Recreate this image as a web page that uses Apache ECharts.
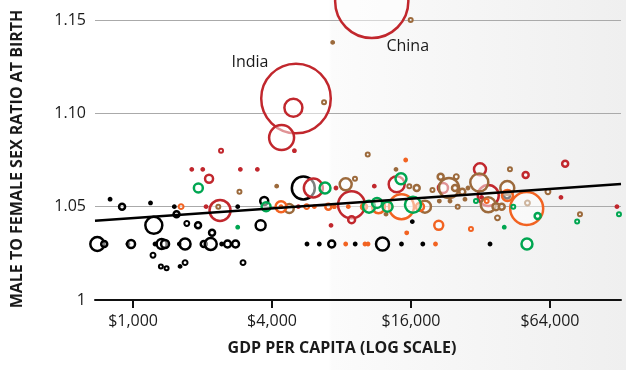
<!DOCTYPE html>
<html>
<head>
<meta charset="utf-8">
<script src="https://cdn.jsdelivr.net/npm/echarts@6/dist/echarts.min.js"></script>
<style>
  html, body { margin: 0; padding: 0; background: #fff; }
  #chart { width: 626px; height: 370px; }
</style>
</head>
<body>
<div id="chart"></div>
<script>
// [gdp per capita $, male/female ratio at birth, population (millions), name]
const black = [
  [700, 1.030, 49], [750, 1.030, 9], [795, 1.054, 2], [896, 1.050, 9],
  [950, 1.030, 1], [980, 1.030, 16], [1190, 1.052, 2], [1230, 1.040, 72],
  [1220, 1.024, 6], [1245, 1.030, 1], [1330, 1.030, 25], [1376, 1.030, 16],
  [1320, 1.018, 4], [1397, 1.017, 4], [1509, 1.050, 1], [1543, 1.046, 9],
  [1587, 1.030, 1], [1680, 1.030, 30], [1598, 1.018, 2], [1680, 1.020, 6],
  [1709, 1.041, 6], [1912, 1.040, 9], [2024, 1.030, 9], [2170, 1.030, 36],
  [2199, 1.036, 9], [2420, 1.030, 1], [2566, 1.030, 12], [2780, 1.030, 12],
  [2995, 1.020, 6], [2840, 1.050, 1], [3570, 1.040, 25], [3700, 1.053, 16],
  [5465, 1.060, 132], [5670, 1.030, 2], [6410, 1.030, 1], [7255, 1.030, 12],
  [9170, 1.030, 1], [12040, 1.030, 42], [14550, 1.030, 1], [16210, 1.042, 1],
  [18000, 1.030, 1], [35200, 1.030, 1], [41700, 1.056, 9]
];
const red = [
  [10815, 1.160, 1340, "China"], [5080, 1.108, 1210, "India"],
  [4950, 1.103, 81], [4400, 1.087, 156], [5000, 1.080, 1], [2405, 1.080, 4],
  [1796, 1.070, 1], [2004, 1.070, 1], [2134, 1.065, 16], [2071, 1.050, 1],
  [2381, 1.048, 110], [2916, 1.070, 1], [3455, 1.070, 1], [5200, 1.050, 1],
  [6040, 1.060, 90], [7570, 1.060, 1], [7205, 1.040, 1], [8840, 1.051, 182],
  [8850, 1.043, 12], [11095, 1.061, 1], [13870, 1.062, 64], [22010, 1.060, 25],
  [31840, 1.070, 36], [34590, 1.056, 110], [32380, 1.055, 1], [50220, 1.067, 9],
  [71420, 1.055, 1], [74480, 1.073, 9], [124850, 1.050, 1]
];
const brown = [
  [15950, 1.150, 4], [7325, 1.138, 1], [6720, 1.106, 4], [10390, 1.078, 4],
  [13775, 1.070, 1], [2340, 1.050, 4], [2890, 1.058, 4], [4190, 1.061, 2],
  [4750, 1.049, 20], [8340, 1.062, 36], [9150, 1.065, 4], [15730, 1.061, 4],
  [16935, 1.060, 9], [18390, 1.050, 36], [12470, 1.046, 2], [19820, 1.059, 4],
  [21510, 1.066, 9], [25140, 1.066, 6], [23370, 1.060, 100], [24820, 1.060, 9],
  [26690, 1.058, 9], [27410, 1.054, 1], [23610, 1.053, 2], [21220, 1.053, 2],
  [25490, 1.050, 4], [28250, 1.060, 2], [31620, 1.063, 81], [34590, 1.051, 56],
  [37340, 1.050, 12], [39540, 1.050, 9], [37910, 1.044, 6], [41810, 1.060, 49],
  [42940, 1.070, 4], [51130, 1.052, 6], [62720, 1.058, 6], [86340, 1.046, 4]
];
const orange = [
  [1614, 1.050, 6], [4376, 1.050, 30], [4376, 1.050, 2], [5650, 1.050, 6],
  [6100, 1.050, 1], [7015, 1.050, 9], [7445, 1.050, 2], [8560, 1.050, 1],
  [8340, 1.030, 1], [10110, 1.030, 1], [10420, 1.030, 1], [10015, 1.050, 9],
  [11570, 1.050, 42], [13195, 1.050, 1], [14550, 1.050, 156], [17500, 1.050, 16],
  [15175, 1.075, 1], [15330, 1.036, 1], [21100, 1.040, 20], [20430, 1.030, 2],
  [29100, 1.038, 4], [34040, 1.053, 4], [41880, 1.056, 30], [50740, 1.049, 272]
];
const green = [
  [1918, 1.060, 20], [2840, 1.039, 1], [3770, 1.050, 20], [6785, 1.060, 30],
  [10525, 1.050, 36], [11400, 1.052, 25], [12655, 1.050, 25], [14480, 1.065, 30],
  [16320, 1.051, 64], [30590, 1.053, 4], [44380, 1.050, 4], [40570, 1.039, 1],
  [56600, 1.045, 9], [50880, 1.030, 30], [83940, 1.042, 4], [127400, 1.046, 4]
];
// fitted line, end points
const trendLine = [[684, 1.0425], [130000, 1.0622]];

const gdpTicks = [1000, 4000, 16000, 64000];
const gdpRange = [684, 130000];
const ratioRange = [1, 1.2];

const font = '"Open Sans", "Noto Sans", sans-serif';
const textColor = "#1a1a1a";
const colors = {
  black: "#000000",
  red: "#c1272d",
  brown: "#9c6a3c",
  orange: "#f26322",
  green: "#00a651",
};
// India / China label placement
const labelOffsets = { India: [-46, -36], China: [36, 45] };

const chart = echarts.init(document.getElementById("chart"));

function toItem(row, color) {
  const size = Math.max(2 * Math.sqrt(row[2]), 2.8);
  const item = {
    value: [Math.log2(row[0]), row[1]],
    symbolSize: size,
    itemStyle: {
      color: size < 3.5 ? color : "rgba(255,255,255,0.5)",
      borderColor: color,
      borderWidth: size < 6 ? 2 : 2.5,
      opacity: 1,
    },
  };
  if (row[3]) {
    item.name = row[3];
    item.label = {
      show: true,
      position: "inside",
      offset: labelOffsets[row[3]],
      formatter: "{b}",
      color: textColor,
      fontFamily: font,
      fontSize: 16,
    };
  }
  return item;
}

function bubbleSeries(name, rows, color) {
  return {
    name: name,
    type: "scatter",
    data: rows.map((r) => toItem(r, color)),
    emphasis: { disabled: true },
    z: 2,
  };
}

const options = {
  animation: false,
  backgroundColor: new echarts.graphic.LinearGradient(0, 0, 1, 0, [
    { offset: 0, color: "#ffffff" },
    { offset: 0.525, color: "#ffffff" },
    { offset: 0.53, color: "#fbfbfb" },
    { offset: 1, color: "#efefef" },
  ]),
  grid: { left: 95, right: 5, top: -73.3, bottom: 70, outerBoundsMode: "none", containLabel: false },
  xAxis: {
    type: "value",
    min: Math.log2(gdpRange[0]),
    max: Math.log2(gdpRange[1]),
    axisLine: { lineStyle: { color: "#111", width: 2 } },
    axisTick: {
      customValues: gdpTicks.map((v) => Math.log2(v)),
      length: 8,
      lineStyle: { color: "#111", width: 2 },
    },
    axisLabel: {
      customValues: gdpTicks.map((v) => Math.log2(v)),
      formatter: (v) => "$" + Math.round(Math.pow(2, v)).toLocaleString("en-US"),
      color: textColor,
      fontFamily: font,
      fontSize: 16,
      margin: 13,
    },
    splitLine: { show: false },
  },
  yAxis: {
    type: "value",
    min: ratioRange[0],
    max: ratioRange[1],
    interval: 0.05,
    axisLine: { show: false },
    axisTick: { show: false },
    axisLabel: {
      formatter: (v) => (v === 1 ? "1" : v.toFixed(2)),
      color: textColor,
      fontFamily: font,
      fontSize: 16,
      margin: 9,
    },
    splitLine: { lineStyle: { color: "#aaaaaa", width: 1 } },
  },
  graphic: [
    {
      type: "text",
      x: 17,
      y: 159,
      rotation: Math.PI / 2,
      style: {
        text: "MALE TO FEMALE SEX RATIO AT BIRTH",
        font: 'bold 16px "Open Sans", sans-serif',
        fill: textColor,
        align: "center",
        verticalAlign: "middle",
      },
    },
    {
      type: "text",
      x: 342,
      y: 348,
      style: {
        text: "GDP PER CAPITA (LOG SCALE)",
        font: 'bold 16px "Open Sans", sans-serif',
        fill: textColor,
        align: "center",
        verticalAlign: "middle",
      },
    },
  ],
  series: [
    bubbleSeries("black", black, colors.black),
    bubbleSeries("red", red, colors.red),
    bubbleSeries("brown", brown, colors.brown),
    bubbleSeries("orange", orange, colors.orange),
    bubbleSeries("green", green, colors.green),
    {
      name: "trend",
      type: "line",
      data: trendLine.map((p) => [Math.log2(p[0]), p[1]]),
      symbol: "none",
      lineStyle: { color: "#000", width: 2.5 },
      emphasis: { disabled: true },
      z: 5,
    },
  ],
};

chart.setOption(options);
</script>
</body>
</html>
